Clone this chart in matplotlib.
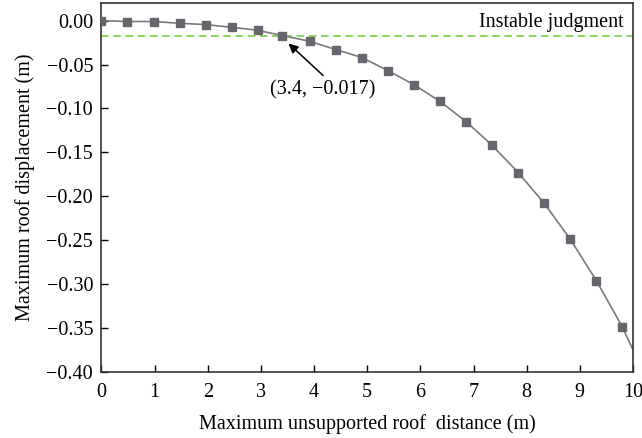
import matplotlib.pyplot as plt

plt.rcParams['font.family'] = ['Liberation Serif', 'DejaVu Serif']

# roof distance (m) and displacement (m)
distance = [0, 0.49, 0.98, 1.47, 1.96, 2.45, 2.94, 3.4, 3.92, 4.41, 4.9,
            5.39, 5.88, 6.37, 6.86, 7.35, 7.84, 8.33, 8.82, 9.31, 9.8]
displacement = [0.0, -0.001, -0.001, -0.003, -0.0045, -0.0076, -0.011, -0.017,
                -0.0235, -0.033, -0.042, -0.057, -0.073, -0.092, -0.115,
                -0.142, -0.173, -0.208, -0.249, -0.296, -0.349]
# fitted curve keeps going to the axis edge
curve_x = distance + [10.0]
curve_y = displacement + [-0.375]

threshold = -0.017
point = (3.4, -0.017)

fig = plt.figure(figsize=(6.42, 4.38), dpi=100)
ax = fig.add_axes([0.158, 0.151, 0.828, 0.842])

ax.plot(curve_x, curve_y, color='#7a7a7a', lw=1.2, zorder=2)
ax.plot(distance, displacement, ls='none', marker='s', ms=5.5,
        color='#66666e', zorder=3)
ax.axhline(threshold, color='#66cc33', lw=1.1, ls=(0, (5, 3)), zorder=1)

ax.text(9.82, -0.002, 'Instable judgment', ha='right', va='center', fontsize=14.5)
# label and arrow drawn separately so the arrow tail sits above the text centre
ax.text(4.16, -0.079, '(3.4, \u22120.017)', ha='center', va='center', fontsize=14.5)
ax.annotate('', xy=(3.52, -0.026), xytext=(4.17, -0.0625),
            arrowprops=dict(arrowstyle='-|>', color='black', lw=1.1,
                            shrinkA=0, shrinkB=0, mutation_scale=14))

ax.set_xlim(0, 10)
ax.set_ylim(-0.40, 0.02)
ax.set_xticks(range(0, 11))
ax.set_yticks([0.0, -0.05, -0.10, -0.15, -0.20, -0.25, -0.30, -0.35, -0.40])
ax.set_yticklabels(['0.00', '\u22120.05', '\u22120.10', '\u22120.15', '\u22120.20',
                    '\u22120.25', '\u22120.30', '\u22120.35', '\u22120.40'])
ax.tick_params(direction='in', length=5, width=1, labelsize=14.5, pad=6,
               top=False, right=False)
ax.tick_params(axis='x', pad=8)
for s in ax.spines.values():
    s.set_linewidth(1.2)
    s.set_color('#333333')

ax.set_xlabel('Maximum unsupported roof  distance (m)', fontsize=14.5, labelpad=9)
ax.set_ylabel('Maximum roof displacement (m)', fontsize=14.5, labelpad=8)

fig.savefig('out.png', dpi=100)
